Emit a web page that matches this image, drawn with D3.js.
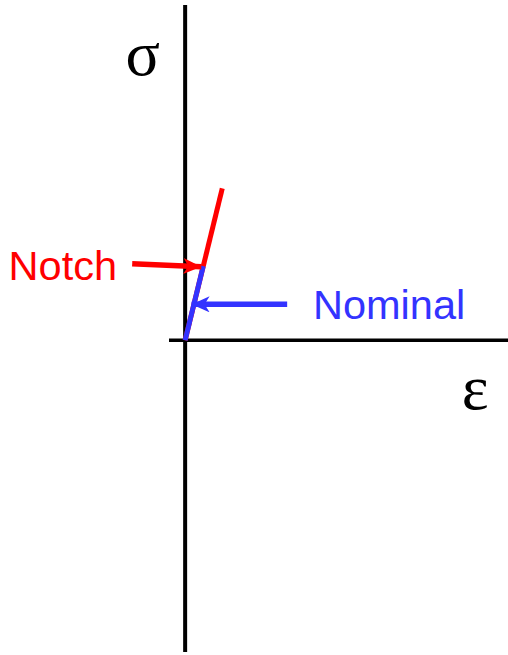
<!DOCTYPE html>
<html>
<head>
<meta charset="utf-8">
<script src="https://cdn.jsdelivr.net/npm/d3@7"></script>
<style>
  html, body { margin: 0; padding: 0; background: #fff; }
  svg { display: block; }
</style>
</head>
<body>
<svg class="sketch"></svg>
<script>
// strain / stress in arbitrary units, origin at (0, 0)
const xDomain = [-0.05, 1];
const yDomain = [-0.93, 1];

const notchCurve = [{ e: 0, s: 0 }, { e: 0.115, s: 0.453 }];
const nominalCurve = [{ e: 0, s: 0 }, { e: 0.056, s: 0.221 }];

const notchArrow = [{ e: -0.164, s: 0.228 }, { e: 0.05, s: 0.219 }];
const nominalArrow = [{ e: 0.316, s: 0.107 }, { e: 0.02, s: 0.107 }];

const labels = [
  { text: 'Notch', e: -0.211, s: 0.179, anchor: 'end', color: '#ff0000' },
  { text: 'Nominal', e: 0.396, s: 0.063, anchor: 'start', color: '#3333ff' }
];
const axisLabels = [
  { text: 'σ', e: -0.131, s: 0.79 },
  { text: 'ε', e: 0.898, s: -0.205 }
];

const svgWidth = 508, svgHeight = 655;

const svg = d3.select('svg.sketch')
  .attr('width', svgWidth)
  .attr('height', svgHeight);

const x = d3.scaleLinear().domain(xDomain).range([169, 508]);
const y = d3.scaleLinear().domain(yDomain).range([652, 5]);

const line = d3.line()
  .x(d => x(d.e))
  .y(d => y(d.s));

const defs = svg.append('defs');
function marker(id, color) {
  defs.append('marker')
    .attr('id', id)
    .attr('markerUnits', 'userSpaceOnUse')
    .attr('viewBox', '0 0 18 16')
    .attr('refX', 18)
    .attr('refY', 8)
    .attr('markerWidth', 18)
    .attr('markerHeight', 16)
    .attr('orient', 'auto')
    .append('path')
    .attr('d', 'M0,0 L18,8 L0,16 L5,8 Z')
    .attr('fill', color);
}
marker('head-red', '#ff0000');
marker('head-blue', '#3333ff');

// axes
svg.append('line')
  .attr('x1', x(0)).attr('x2', x(0))
  .attr('y1', y(yDomain[1])).attr('y2', y(yDomain[0]))
  .attr('stroke', '#000')
  .attr('stroke-width', 4);

svg.append('line')
  .attr('x1', x(xDomain[0])).attr('x2', x(xDomain[1]))
  .attr('y1', y(0)).attr('y2', y(0))
  .attr('stroke', '#000')
  .attr('stroke-width', 3.5);

// curves
svg.append('path')
  .datum(notchCurve)
  .attr('fill', 'none')
  .attr('stroke', '#ff0000')
  .attr('stroke-width', 5)
  .attr('d', line);

svg.append('path')
  .datum(nominalCurve)
  .attr('fill', 'none')
  .attr('stroke', '#3333ff')
  .attr('stroke-width', 5)
  .attr('d', line);

// arrows
svg.append('path')
  .datum(notchArrow)
  .attr('fill', 'none')
  .attr('stroke', '#ff0000')
  .attr('stroke-width', 5.5)
  .attr('marker-end', 'url(#head-red)')
  .attr('d', line);

svg.append('path')
  .datum(nominalArrow)
  .attr('fill', 'none')
  .attr('stroke', '#3333ff')
  .attr('stroke-width', 5.5)
  .attr('marker-end', 'url(#head-blue)')
  .attr('d', line);

// labels
svg.selectAll('text.label')
  .data(labels)
  .enter().append('text')
  .attr('class', 'label')
  .attr('x', d => x(d.e))
  .attr('y', d => y(d.s))
  .attr('text-anchor', d => d.anchor)
  .attr('fill', d => d.color)
  .attr('font-family', '"Liberation Sans", Arial, sans-serif')
  .attr('font-size', 41.5)
  .text(d => d.text);

svg.selectAll('text.axis-label')
  .data(axisLabels)
  .enter().append('text')
  .attr('class', 'axis-label')
  .attr('x', d => x(d.e))
  .attr('y', d => y(d.s))
  .attr('text-anchor', 'middle')
  .attr('fill', '#000')
  .attr('font-family', '"Liberation Serif", "Times New Roman", serif')
  .attr('font-size', 64)
  .text(d => d.text);
</script>
</body>
</html>
